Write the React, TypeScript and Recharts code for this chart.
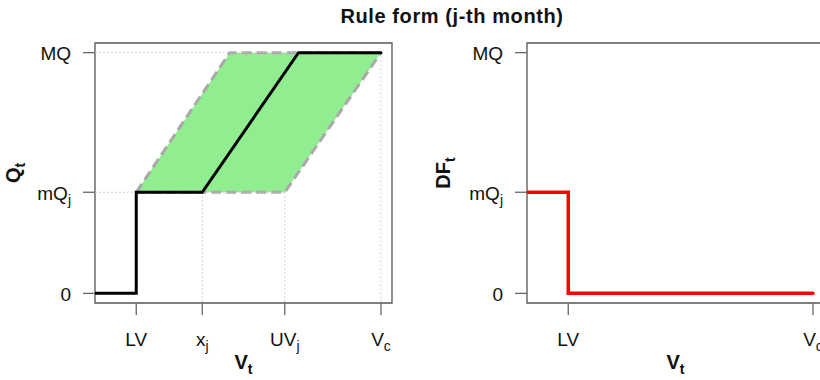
import React from 'react';
import { ComposedChart, Line, Area, XAxis, YAxis, ReferenceArea } from 'recharts';

const FONT = '"Liberation Sans", Arial, Helvetica, sans-serif';

// axis ranges (storage on x, flow on y), R-style 4% padding
const xDomain = [-4, 104];
const yDomain = [-0.04, 1.04];

// tick positions and labels ("_" marks a subscript)
const xTickValues = [11, 35, 65, 100];
const xTickLabels = ['LV', 'x_j', 'UV_j', 'V_c'];
const yTickValues = [0, 0.42, 1];
const yTickLabels = ['0', 'mQ_j', 'MQ'];
const dfTickValues = [11, 100];
const dfTickLabels = ['LV', 'V_c'];

// release rule Q_t against V_t
const ruleV = [-4, 11, 11, 35, 70, 100];
const ruleQ = [0, 0, 0.42, 0.42, 1, 1];

// green band around the rule
const bandV = [11, 45, 65, 100];
const bandLow = [0.42, 0.42, 0.42, 1];
const bandHigh = [0.42, 1, 1, 1];

// deficit DF_t against V_t
const dfV = [-4, 11, 11, 100];
const dfQ = [0.42, 0.42, 0, 0];

// dotted guides: horizontal levels (with end x) and vertical drops (with top y)
const guideLevels = [1, 0.42];
const guideLevelEnds = [100, 65];
const guideDrops = [35, 65, 100];
const guideDropTops = [0.42, 0.42, 1];

const ruleData = ruleV.map((x, i) => ({ x, y: ruleQ[i] }));
const bandData = bandV.map((x, i) => ({ x, range: [bandLow[i], bandHigh[i]] }));
const dfData = dfV.map((x, i) => ({ x, y: dfQ[i] }));
const guideSegments = [
  ...guideLevels.map((y, i) => [{ x: xDomain[0], y }, { x: guideLevelEnds[i], y }]),
  ...guideDrops.map((x, i) => [{ x, y: guideDropTops[i] }, { x, y: yDomain[0] }]),
];

const splitLabel = (s: string) => {
  const [main, sub] = s.split('_');
  return { main, sub };
};

const MathText = ({ x, y, label, anchor, size, subSize, bold, transform }: any) => {
  const { main, sub } = splitLabel(label);
  return (
    <text
      x={x}
      y={y}
      transform={transform}
      textAnchor={anchor}
      fontSize={size}
      fontFamily={FONT}
      fontWeight={bold ? 'bold' : 'normal'}
      fill="#111"
    >
      {main}
      {sub && (
        <tspan dy={size * 0.27} fontSize={subSize}>
          {sub}
        </tspan>
      )}
    </text>
  );
};

const makeXTick = (values: number[], labels: string[]) => (props: any) => {
  const { x, y, payload } = props;
  const label = labels[values.indexOf(payload.value)] ?? '';
  return <MathText x={x} y={y + 31} label={label} anchor="middle" size={19} subSize={14} />;
};

const makeYTick = (values: number[], labels: string[]) => (props: any) => {
  const { x, y, payload } = props;
  const label = labels[values.indexOf(payload.value)] ?? '';
  return <MathText x={x} y={y + 7.5} label={label} anchor="end" size={19} subSize={14} />;
};

const tickLine = { stroke: '#666', strokeWidth: 1.3 };

const Frame = () => (
  <ReferenceArea
    x1={xDomain[0]}
    x2={xDomain[1]}
    y1={yDomain[0]}
    y2={yDomain[1]}
    fill="none"
    fillOpacity={0}
    stroke="#555"
    strokeWidth={1.3}
    ifOverflow="visible"
  />
);

export default function App() {
  return (
    <div
      style={{
        position: 'absolute',
        left: 0,
        top: 0,
        width: 820,
        height: 380,
        overflow: 'hidden',
        background: '#fff',
      }}
    >
      <div style={{ position: 'absolute', left: 0, top: 0 }}>
        <ComposedChart width={410} height={380} margin={{ top: 43, right: 18, bottom: 0, left: 0 }}>
          <XAxis
            type="number"
            dataKey="x"
            domain={xDomain}
            allowDataOverflow
            ticks={xTickValues}
            interval={0}
            tick={makeXTick(xTickValues, xTickLabels)}
            tickLine={tickLine}
            axisLine={false}
            tickSize={12}
            tickMargin={0}
            height={77}
          />
          <YAxis
            type="number"
            domain={yDomain}
            allowDataOverflow
            ticks={yTickValues}
            interval={0}
            tick={makeYTick(yTickValues, yTickLabels)}
            tickLine={tickLine}
            axisLine={false}
            tickSize={12}
            tickMargin={12}
            width={95}
          />
          {guideSegments.map((seg, i) => (
            <Line
              key={`guide-${i}`}
              data={seg}
              dataKey="y"
              type="linear"
              stroke="#c4c4c4"
              strokeWidth={1}
              strokeDasharray="1.5 2.5"
              dot={false}
              activeDot={false}
              isAnimationActive={false}
            />
          ))}
          <Area
            data={bandData}
            dataKey="range"
            type="linear"
            fill="#90EE90"
            fillOpacity={1}
            stroke="#A9A9A9"
            strokeWidth={3}
            strokeDasharray="10 5"
            dot={false}
            activeDot={false}
            isAnimationActive={false}
          />
          <Line
            data={ruleData}
            dataKey="y"
            type="linear"
            stroke="#000"
            strokeWidth={3}
            strokeLinecap="round"
            dot={false}
            activeDot={false}
            isAnimationActive={false}
          />
          {Frame()}
        </ComposedChart>
      </div>

      <div style={{ position: 'absolute', left: 410, top: 0 }}>
        <ComposedChart width={420} height={380} margin={{ top: 43, right: 6, bottom: 0, left: 0 }}>
          <XAxis
            type="number"
            dataKey="x"
            domain={xDomain}
            allowDataOverflow
            ticks={dfTickValues}
            interval={0}
            tick={makeXTick(dfTickValues, dfTickLabels)}
            tickLine={tickLine}
            axisLine={false}
            tickSize={12}
            tickMargin={0}
            height={77}
          />
          <YAxis
            type="number"
            domain={yDomain}
            allowDataOverflow
            ticks={yTickValues}
            interval={0}
            tick={makeYTick(yTickValues, yTickLabels)}
            tickLine={tickLine}
            axisLine={false}
            tickSize={12}
            tickMargin={12}
            width={117}
          />
          <Line
            data={dfData}
            dataKey="y"
            type="linear"
            stroke="#FF0000"
            strokeWidth={3.5}
            strokeLinecap="round"
            dot={false}
            activeDot={false}
            isAnimationActive={false}
          />
          {Frame()}
        </ComposedChart>
      </div>

      <svg
        width={820}
        height={380}
        style={{ position: 'absolute', left: 0, top: 0, pointerEvents: 'none' }}
      >
        <text
          x={452}
          y={23}
          textAnchor="middle"
          fontSize={20}
          fontWeight="bold"
          fontFamily={FONT}
          letterSpacing={0.6}
          fill="#111"
        >
          Rule form (j-th month)
        </text>
        <MathText x={0} y={0} transform="translate(20,173) rotate(-90)" label="Q_t" anchor="middle" size={20} subSize={14} bold />
        <MathText x={0} y={0} transform="translate(450,173) rotate(-90)" label="DF_t" anchor="middle" size={20} subSize={14} bold />
        <MathText x={243.5} y={369} label="V_t" anchor="middle" size={20} subSize={14} bold />
        <MathText x={675.5} y={369} label="V_t" anchor="middle" size={20} subSize={14} bold />
      </svg>
    </div>
  );
}
